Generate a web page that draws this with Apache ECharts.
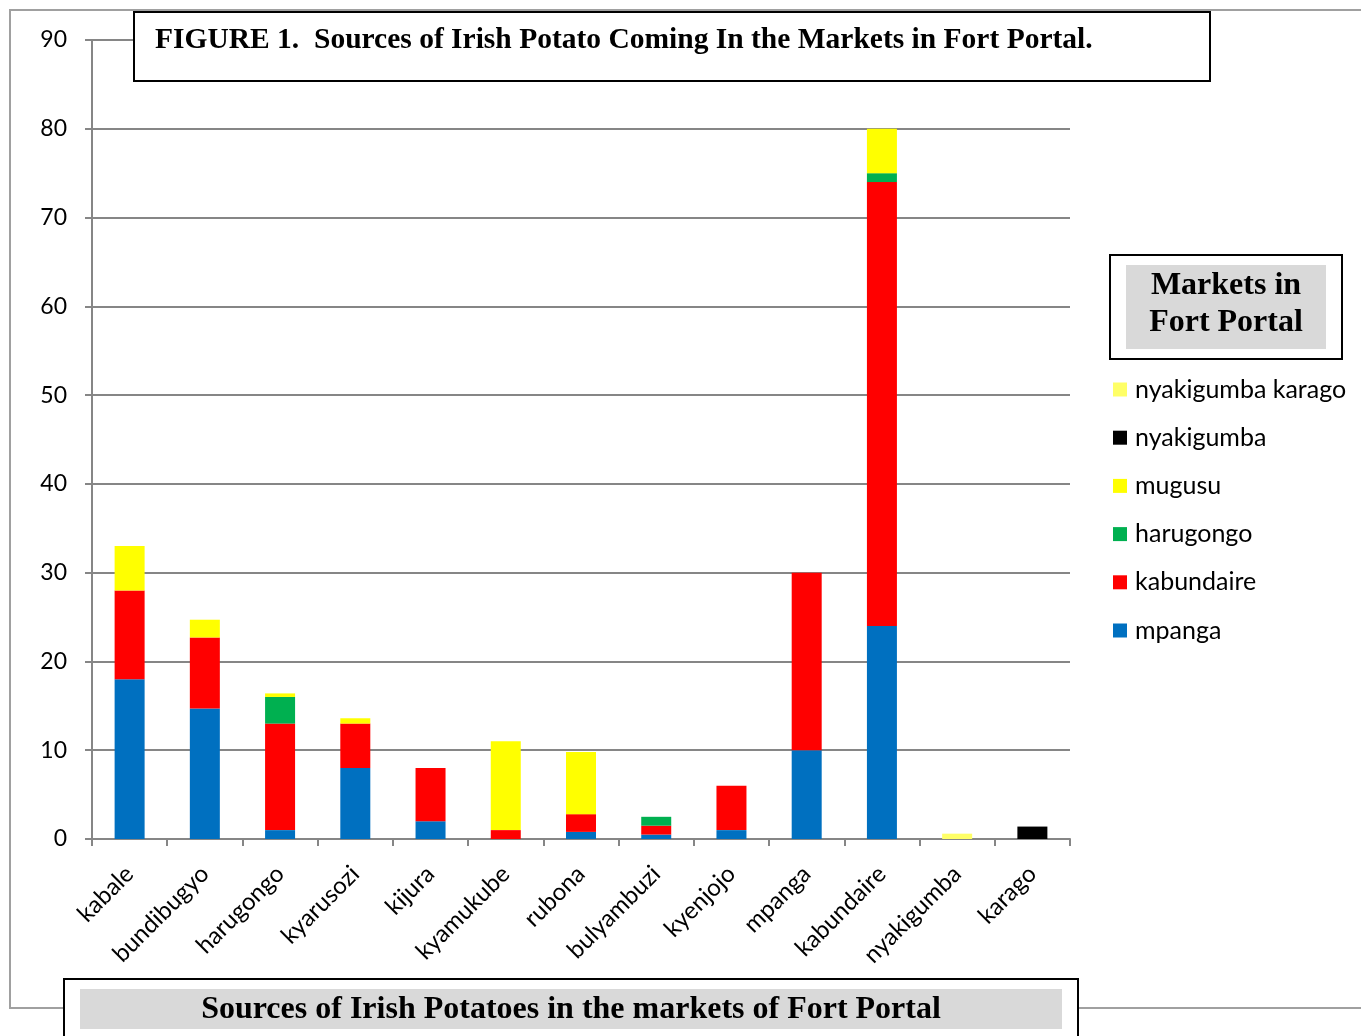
<!DOCTYPE html>
<html>
<head>
<meta charset="utf-8">
<title>Sources of Irish Potato</title>
<script src="https://cdn.jsdelivr.net/npm/echarts@6/dist/echarts.min.js"></script>
<style>
  html, body { margin: 0; padding: 0; background: #fff; }
  #chart { width: 1361px; height: 1036px; }
</style>
</head>
<body>
<div id="chart"></div>
<script>
// categories along the x axis (source districts)
const sources = ['kabale', 'bundibugyo', 'harugongo', 'kyarusozi', 'kijura', 'kyamukube',
  'rubona', 'bulyambuzi', 'kyenjojo', 'mpanga', 'kabundaire', 'nyakigumba', 'karago'];

// one array per market, bottom of the stack first
const mpanga     = [18, 14.7, 1, 8, 2, 0, 0.8, 0.5, 1, 10, 24, 0, 0];
const kabundaire = [10, 8, 12, 5, 6, 1, 2, 1, 5, 20, 50, 0, 0];
const harugongo  = [0, 0, 3, 0, 0, 0, 0, 1, 0, 0, 1, 0, 0];
const mugusu     = [5, 2, 0.4, 0.6, 0, 10, 7, 0, 0, 0, 5, 0, 0];
const nyakigumba = [0, 0, 0, 0, 0, 0, 0, 0, 0, 0, 0, 0, 1.4];
const nyakigumbaKarago = [0, 0, 0, 0, 0, 0, 0, 0, 0, 0, 0, 0.6, 0];

const yTicks = { min: 0, max: 90, interval: 10 };

const seriesDefs = [
  { name: 'mpanga', data: mpanga, color: '#0070C0' },
  { name: 'kabundaire', data: kabundaire, color: '#FF0000' },
  { name: 'harugongo', data: harugongo, color: '#00B050' },
  { name: 'mugusu', data: mugusu, color: '#FFFF00' },
  { name: 'nyakigumba', data: nyakigumba, color: '#000000' },
  { name: 'nyakigumba karago', data: nyakigumbaKarago, color: '#FFFF66' }
];

const sans = 'Lato, "Open Sans", sans-serif';
const serif = '"Liberation Serif", "DejaVu Serif", serif';
const gridColor = '#868686';

const chart = echarts.init(document.getElementById('chart'));

const option = {
  animation: false,
  backgroundColor: '#fff',
  grid: { left: 92, right: 291, top: 40, bottom: 197, containLabel: false },
  legend: {
    orient: 'vertical',
    left: 1113,
    top: 377,
    padding: 0,
    data: seriesDefs.map(s => s.name).reverse(),
    icon: 'rect',
    itemWidth: 14,
    itemHeight: 14,
    itemGap: 23.2,
    selectedMode: false,
    textStyle: { fontFamily: sans, fontSize: 25, color: '#000', lineHeight: 22, padding: [0, 0, 0, 3] }
  },
  xAxis: {
    type: 'category',
    data: sources,
    axisLine: { lineStyle: { color: gridColor, width: 2 } },
    axisTick: { show: true, length: 7, lineStyle: { color: gridColor, width: 2 } },
    axisLabel: {
      rotate: 45,
      margin: 31,
      fontFamily: sans,
      fontSize: 24,
      color: '#000'
    }
  },
  yAxis: {
    type: 'value',
    min: yTicks.min,
    max: yTicks.max,
    interval: yTicks.interval,
    axisLine: { show: true, lineStyle: { color: gridColor, width: 2 } },
    axisTick: { show: true, length: 7, lineStyle: { color: gridColor, width: 2 } },
    axisLabel: { margin: 25, fontFamily: sans, fontSize: 23, color: '#000' },
    splitLine: { lineStyle: { color: gridColor, width: 2 } }
  },
  series: seriesDefs.map(s => ({
    name: s.name,
    type: 'bar',
    stack: 'total',
    barWidth: 30,
    data: s.data,
    itemStyle: { color: s.color }
  })),
  graphic: [
    // outer frame of the figure
    {
      type: 'rect', z: 0, silent: true,
      shape: { x: 10, y: 10, width: 1400, height: 998 },
      style: { fill: null, stroke: '#A0A0A0', lineWidth: 2 }
    },
    // figure title box
    {
      type: 'rect', z: 100,
      shape: { x: 134, y: 12, width: 1076, height: 69 },
      style: { fill: '#fff', stroke: '#000', lineWidth: 2 }
    },
    {
      type: 'text', z: 101, x: 155, y: 40,
      style: {
        text: 'FIGURE 1.  Sources of Irish Potato Coming In the Markets in Fort Portal.',
        font: 'bold 29.5px ' + serif, fill: '#000', verticalAlign: 'middle'
      }
    },
    // legend title box
    {
      type: 'rect', z: 100,
      shape: { x: 1110, y: 255, width: 232, height: 104 },
      style: { fill: '#fff', stroke: '#000', lineWidth: 2 }
    },
    {
      type: 'rect', z: 101,
      shape: { x: 1126, y: 265, width: 200, height: 84 },
      style: { fill: '#D9D9D9' }
    },
    {
      type: 'text', z: 102, x: 1226, y: 304,
      style: {
        text: 'Markets in\nFort Portal',
        font: 'bold 32px ' + serif, fill: '#000',
        align: 'center', verticalAlign: 'middle', lineHeight: 37
      }
    },
    // bottom caption box
    {
      type: 'rect', z: 100,
      shape: { x: 64, y: 979, width: 1014, height: 70 },
      style: { fill: '#fff', stroke: '#000', lineWidth: 2 }
    },
    {
      type: 'rect', z: 101,
      shape: { x: 80, y: 989, width: 982, height: 40 },
      style: { fill: '#D9D9D9' }
    },
    {
      type: 'text', z: 102, x: 571, y: 1010,
      style: {
        text: 'Sources of Irish Potatoes in the markets of Fort Portal',
        font: 'bold 32px ' + serif, fill: '#000',
        align: 'center', verticalAlign: 'middle'
      }
    }
  ]
};

chart.setOption(option);
</script>
</body>
</html>
